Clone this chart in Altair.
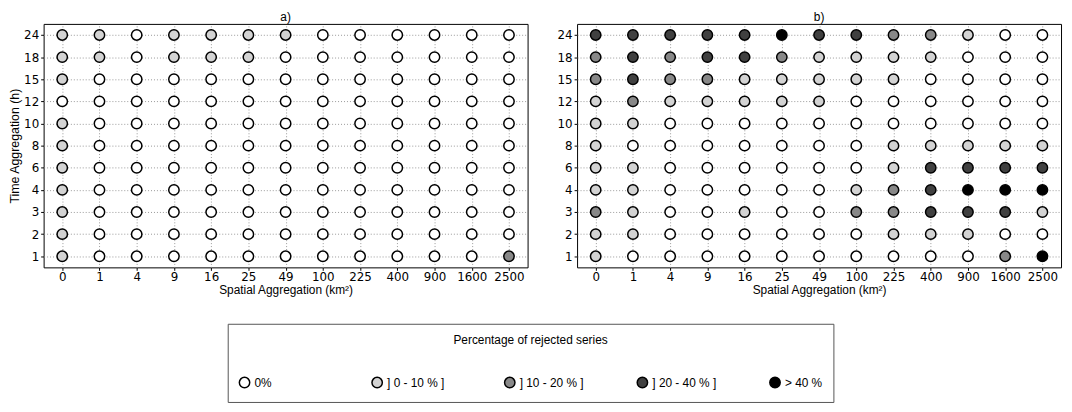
import altair as alt
import pandas as pd

spatial = ["0", "1", "4", "9", "16", "25", "49", "100", "225", "400", "900", "1600", "2500"]
time_rows = ["24", "18", "15", "12", "10", "8", "6", "4", "3", "2", "1"]
classes = ["0%", "] 0 - 10 % ]", "] 10 - 20 % ]", "] 20 - 40 % ]", "> 40 %"]
class_colors = ["#ffffff", "#d3d3d3", "#888888", "#404040", "#000000"]

# class index per cell, rows from 24 h (top) to 1 h (bottom)
panel_a = [
    [1, 1, 0, 1, 1, 1, 1, 0, 0, 0, 0, 0, 0],  # 24
    [1, 1, 0, 1, 1, 1, 0, 0, 0, 0, 0, 0, 0],  # 18
    [1, 0, 0, 0, 0, 0, 0, 0, 0, 0, 0, 0, 0],  # 15
    [0, 0, 0, 0, 0, 0, 0, 0, 0, 0, 0, 0, 0],  # 12
    [1, 0, 0, 0, 0, 0, 0, 0, 0, 0, 0, 0, 0],  # 10
    [1, 0, 0, 0, 0, 0, 0, 0, 0, 0, 0, 0, 0],  # 8
    [1, 0, 0, 0, 0, 0, 0, 0, 0, 0, 0, 0, 0],  # 6
    [1, 0, 0, 0, 0, 0, 0, 0, 0, 0, 0, 0, 0],  # 4
    [1, 0, 0, 0, 0, 0, 0, 0, 0, 0, 0, 0, 0],  # 3
    [1, 0, 0, 0, 0, 0, 0, 0, 0, 0, 0, 0, 0],  # 2
    [1, 0, 0, 0, 0, 0, 0, 0, 0, 0, 0, 0, 2],  # 1
]
panel_b = [
    [3, 3, 3, 3, 3, 4, 3, 3, 2, 2, 1, 0, 0],  # 24
    [2, 3, 2, 3, 3, 2, 1, 1, 1, 1, 0, 0, 0],  # 18
    [2, 3, 2, 2, 1, 1, 1, 1, 1, 0, 0, 0, 0],  # 15
    [1, 2, 1, 1, 1, 1, 1, 0, 0, 0, 0, 0, 0],  # 12
    [1, 1, 0, 0, 0, 0, 0, 0, 0, 0, 0, 0, 0],  # 10
    [1, 0, 0, 0, 0, 0, 0, 0, 1, 1, 1, 1, 1],  # 8
    [1, 1, 0, 0, 0, 0, 0, 0, 1, 3, 3, 3, 3],  # 6
    [1, 1, 0, 0, 0, 0, 0, 1, 2, 3, 4, 4, 4],  # 4
    [2, 1, 0, 0, 1, 0, 0, 2, 2, 3, 3, 3, 1],  # 3
    [1, 1, 0, 0, 0, 0, 0, 0, 1, 1, 1, 0, 0],  # 2
    [1, 0, 0, 0, 0, 0, 0, 0, 0, 0, 0, 2, 4],  # 1
]


def to_frame(matrix):
    rows = []
    for r, t in enumerate(time_rows):
        for c, s in enumerate(spatial):
            rows.append({"space": s, "time": t, "cls": classes[matrix[r][c]]})
    return pd.DataFrame(rows)


AXIS_FONT = "DejaVu Sans"
TEXT_FONT = "Liberation Sans"

color = alt.Color(
    "cls:N",
    scale=alt.Scale(domain=classes, range=class_colors),
    legend=alt.Legend(
        orient="none",
        legendX=186,
        legendY=303,
        direction="horizontal",
        columns=5,
        gridAlign="all",
        columnPadding=50,
        title="Percentage of rejected series",
        titleAnchor="middle",
        titleFont=TEXT_FONT,
        titleFontSize=12,
        titleFontWeight="normal",
        titleColor="black",
        titlePadding=30,
        labelFont=TEXT_FONT,
        labelFontSize=12,
        labelColor="black",
        symbolType="circle",
        symbolSize=110,
        symbolStrokeColor="black",
        symbolStrokeWidth=1.5,
        strokeColor="#555555",
        fillColor="white",
        padding=11,
    ),
)


def panel(matrix, title, show_y):
    y_axis = alt.Axis(
        title="Time Aggregation (h)" if show_y else None,
        labelFont=AXIS_FONT, labelFontSize=12, labelColor="black",
        titleFont=TEXT_FONT, titleFontSize=12.5, titleFontWeight="normal", titleColor="black",
        tickColor="black", tickSize=3, domain=False,
        grid=True, gridColor="#999999", gridDash=[1, 2], gridWidth=1,
        labelPadding=2, titlePadding=2,
    )
    x_axis = alt.Axis(
        title="Spatial Aggregation (km²)", labelAngle=0,
        labelFont=AXIS_FONT, labelFontSize=12, labelColor="black",
        titleFont=TEXT_FONT, titleFontSize=12, titleFontWeight="normal", titleColor="black",
        tickColor="black", tickSize=3, domain=False,
        grid=True, gridColor="#999999", gridDash=[1, 2], gridWidth=1,
        labelPadding=1, titlePadding=2,
    )
    return alt.Chart(to_frame(matrix), title=alt.TitleParams(
        title, font=TEXT_FONT, fontSize=12, fontWeight="normal", color="black", offset=0
    )).mark_circle(stroke="black", strokeWidth=1.5, size=110, opacity=1).encode(
        x=alt.X("space:O", sort=spatial, scale=alt.Scale(type="point", padding=0.5), axis=x_axis),
        y=alt.Y("time:O", sort=time_rows, scale=alt.Scale(type="point", padding=0.5), axis=y_axis),
        color=color,
    ).properties(width=489, height=246)


chart = alt.hconcat(
    panel(panel_a, "a)", True),
    panel(panel_b, "b)", False),
    spacing=28,
).properties(
    padding={"left": 0, "top": 0, "right": 2, "bottom": 0}
).configure(background="white").configure_view(stroke="black", strokeWidth=1)

chart.save("out.html", embed_options={"renderer": "svg", "actions": False})
